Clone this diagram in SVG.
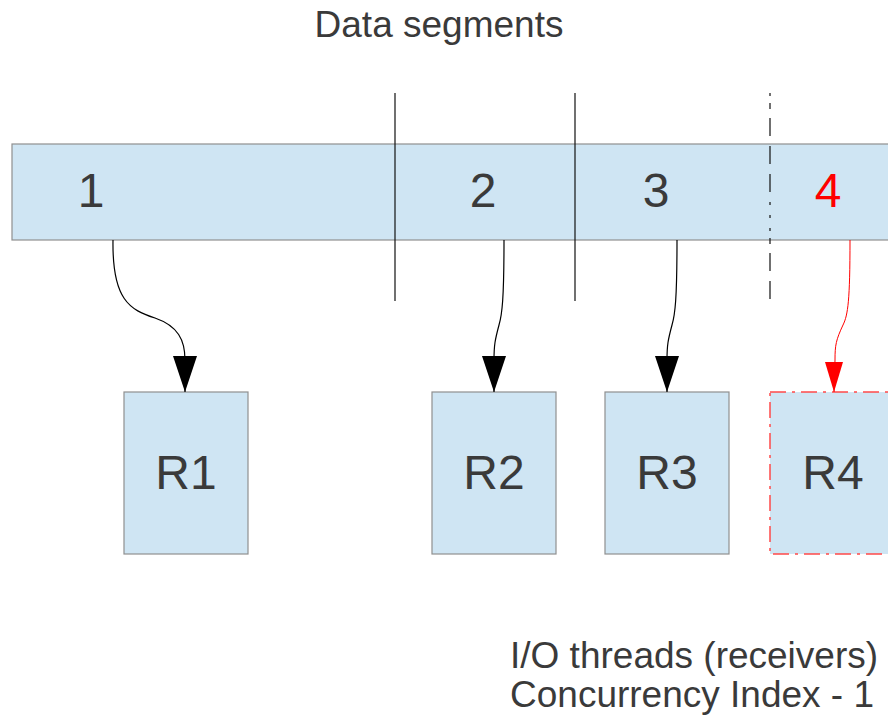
<svg xmlns="http://www.w3.org/2000/svg" width="888" height="715" viewBox="0 0 888 715">
<style>
text{font-family:"Liberation Sans",Arial,sans-serif;fill:#3a3a3a}
.big{font-size:48px;text-anchor:middle}
.lbl{font-size:37px}
.box{fill:#cfe5f3;stroke:#8f8f8f;stroke-width:1.2}
.conn{fill:none;stroke:#000;stroke-width:1.2}
.div{stroke:#111;stroke-width:1.2}
</style>
<defs>
<marker id="ah" markerUnits="userSpaceOnUse" markerWidth="24" markerHeight="36" viewBox="0 0 24 36" refX="12" refY="36" orient="0">
<path d="M0,0 L24,0 L12,36 Z" fill="#000"/>
</marker>
<marker id="ahr" markerUnits="userSpaceOnUse" markerWidth="18" markerHeight="30" viewBox="0 0 18 30" refX="9" refY="30" orient="0">
<path d="M0,0 L18,0 L9,30 Z" fill="#f00"/>
</marker>
</defs>
<text class="lbl" x="439" y="37" text-anchor="middle">Data segments</text>
<g id="segments">
<rect class="box" x="12" y="144" width="890" height="96"/>
<text class="big" x="91" y="207">1</text>
<text class="big" x="483" y="207">2</text>
<text class="big" x="656" y="207">3</text>
<text class="big" x="828" y="207" style="fill:#f00">4</text>
</g>
<g id="dividers">
<line class="div" x1="395" y1="93" x2="395" y2="301"/>
<line class="div" x1="575" y1="93" x2="575" y2="301"/>
<line class="div" x1="770" y1="93" x2="770" y2="302" stroke-dasharray="3,7,6,9,18,10,18,10,18,10,3,10,3,10"/>
</g>
<g id="R1"><rect class="box" x="124" y="392" width="124" height="162"/><text class="big" x="186" y="489">R1</text></g>
<g id="R2"><rect class="box" x="432" y="392" width="124" height="162"/><text class="big" x="494" y="489">R2</text></g>
<g id="R3"><rect class="box" x="605" y="392" width="124" height="162"/><text class="big" x="667" y="489">R3</text></g>
<g id="R4"><rect x="770" y="392" width="130" height="162" fill="#cfe5f3" stroke="#ff4a4a" stroke-width="1.5" stroke-dasharray="16,6,3,6"/><text class="big" x="833" y="489">R4</text></g>
<g id="connectors">
<path class="conn" d="M113,240 C112,300 130,310 155,318 C178,326 185,340 185,360 L185,392" marker-end="url(#ah)"/>
<path class="conn" d="M504,240 C504,300 502,315 499,325 C495,340 494,345 494,360 L494,392" marker-end="url(#ah)"/>
<path class="conn" d="M677,240 C677,300 675,315 672,325 C668,340 667,345 667,360 L667,392" marker-end="url(#ah)"/>
<path d="M850,240 C850,300 848,315 843,325 C836,340 835,345 835,360 L834,392" fill="none" stroke="#f00" stroke-width="1" marker-end="url(#ahr)"/>
</g>
<text class="lbl" x="510" y="668">I/O threads (receivers)</text>
<text class="lbl" x="510" y="707">Concurrency Index - 1</text>
</svg>
